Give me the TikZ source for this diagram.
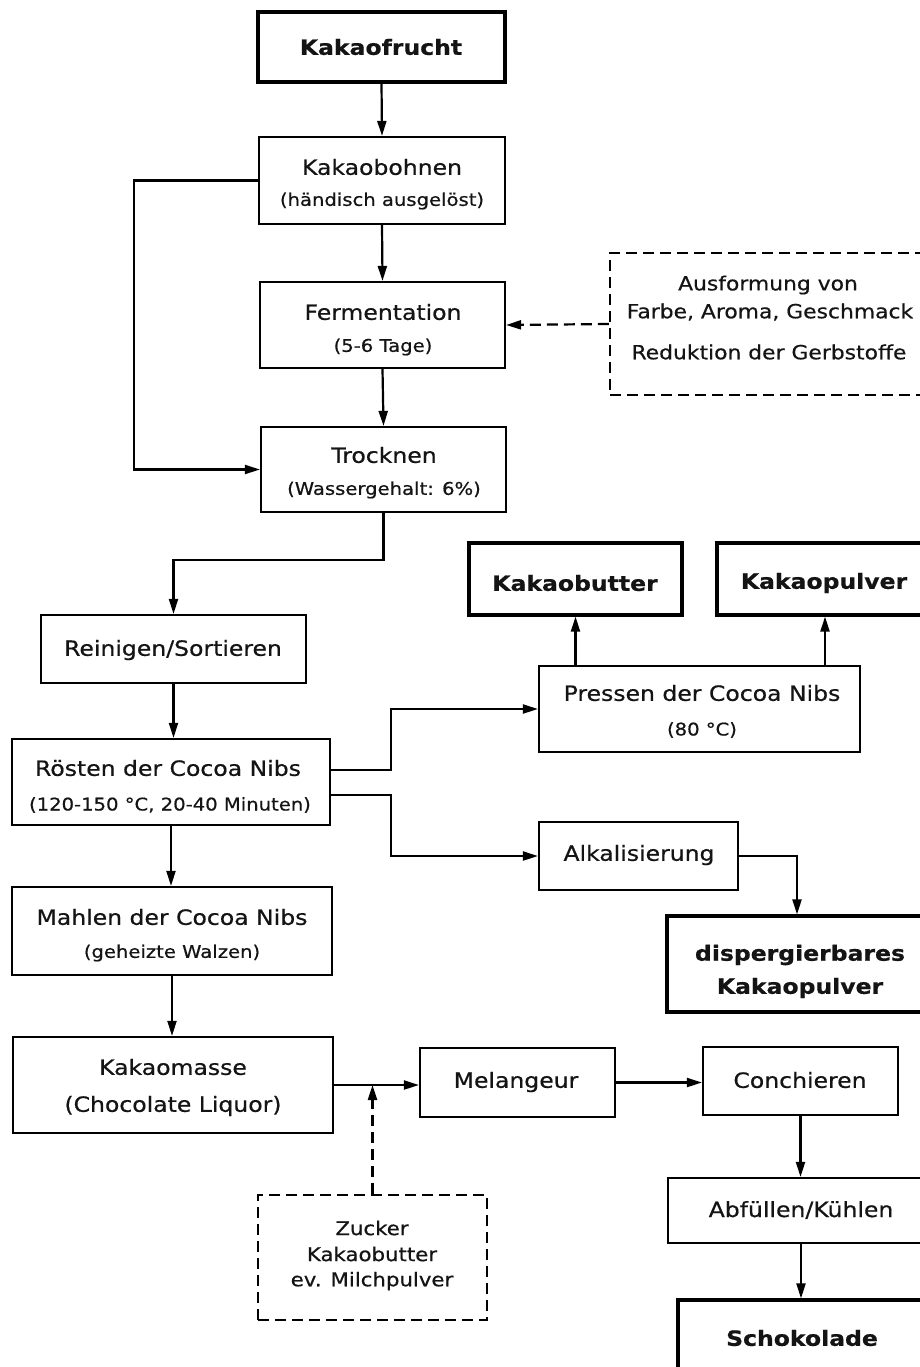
\documentclass[tikz,border=0pt]{standalone}
\usepackage{fontspec}
\setmainfont{DejaVu Sans}[FakeStretch=1.12,FakeBold=0.6]
\usetikzlibrary{arrows.meta,calc}
\newcommand\msz{\fontsize{21}{24}\selectfont}
\newcommand\ssz{\fontsize{17.5}{20}\selectfont}
\newcommand\bsz{\fontsize{21}{24}\selectfont\bfseries}
\newcommand\dsz{\fontsize{19.5}{22}\selectfont}
\newcommand\zsz{\fontsize{19}{22}\selectfont}
\tikzset{
  box/.style={draw=black, line width=2.2pt, rectangle, inner sep=0pt},
  tbox/.style={draw=black, line width=3.2pt, rectangle, inner sep=0pt},
  dbox/.style={draw=black, line width=2.2pt, rectangle, inner sep=0pt, dash pattern=on 11pt off 6pt},
  txt/.style={inner sep=0pt, text=black!92},
  conn/.style={line width=2.2pt, -{Triangle[length=15pt,width=9pt]}},
  dconn/.style={line width=2.2pt, dash pattern=on 11pt off 6pt, -{Triangle[length=15pt,width=9pt]}},
}
\begin{document}
\begin{tikzpicture}[x=1pt,y=-1pt]
\useasboundingbox (0,0) rectangle (920,1367);
\fill[white] (0,0) rectangle (920,1367);
\clip (0,0) rectangle (920,1367);

% boxes
\node[tbox, minimum width=247pt, minimum height=70pt] (kf) at (381.5,47) {};
\node[box, minimum width=246pt, minimum height=87pt] (kb) at (382,180.5) {};
\node[box, minimum width=245pt, minimum height=86pt] (fe) at (382.5,325) {};
\node[box, minimum width=245pt, minimum height=85pt] (tr) at (383.5,469.5) {};
\node[dbox, minimum width=325pt, minimum height=142pt] (aus) at (772.5,324) {};
\node[box, minimum width=265pt, minimum height=68pt] (rs) at (173.5,649) {};
\node[box, minimum width=318pt, minimum height=86pt] (ro) at (171,782) {};
\node[box, minimum width=321pt, minimum height=86pt] (pr) at (699.5,709) {};
\node[tbox, minimum width=213pt, minimum height=72pt] (kbu) at (575.5,579) {};
\node[tbox, minimum width=208pt, minimum height=72pt] (kpu) at (821,579) {};
\node[box, minimum width=199pt, minimum height=68pt] (al) at (638.5,856) {};
\node[tbox, minimum width=266pt, minimum height=96pt] (dk) at (800,964) {};
\node[box, minimum width=320pt, minimum height=88pt] (ma) at (172,931) {};
\node[box, minimum width=320pt, minimum height=96pt] (km) at (173,1085) {};
\node[box, minimum width=195pt, minimum height=69pt] (me) at (517.5,1082.5) {};
\node[dbox, minimum width=229pt, minimum height=125pt] (zu) at (372.5,1257.5) {};
\node[box, minimum width=195pt, minimum height=68pt] (co) at (800.5,1081) {};
\node[box, minimum width=266pt, minimum height=65pt] (ab) at (801,1210.5) {};
\node[tbox, minimum width=248pt, minimum height=100pt] (sc) at (802,1350) {};

% texts
\node[txt] (t1) at (381,47) {\bsz Kakaofrucht};
\node[txt] (t2) at (382,167) {\msz Kakaobohnen};
\node[txt] (t3) at (382,201) {\ssz (händisch ausgelöst)};
\node[txt] (t4) at (383,312) {\msz Fermentation};
\node[txt] (t5) at (383,347) {\ssz (5-6 Tage)};
\node[txt] (t6) at (384,455) {\msz Trocknen};
\node[txt] (t7) at (384,490) {\ssz (Wassergehalt: 6\%)};
\node[txt] (t8) at (768,285) {\dsz Ausformung von};
\node[txt] (t9) at (770,312) {\dsz Farbe, Aroma, Geschmack};
\node[txt] (t10) at (769,352) {\dsz Reduktion der Gerbstoffe};
\node[txt] (t11) at (575,583) {\bsz Kakaobutter};
\node[txt] (t12) at (824,583) {\bsz Kakaopulver};
\node[txt] (t13) at (173,650) {\msz Reinigen/Sortieren};
\node[txt] (t14) at (168,768) {\msz Rösten der Cocoa Nibs};
\node[txt] (t15) at (170,805) {\ssz (120-150 °C, 20-40 Minuten)};
\node[txt] (t16) at (702,693) {\msz Pressen der Cocoa Nibs};
\node[txt] (t17) at (702,730) {\ssz (80 °C)};
\node[txt] (t18) at (639,855) {\msz Alkalisierung};
\node[txt] (t19) at (800,955) {\bsz dispergierbares};
\node[txt] (t20) at (800,988) {\bsz Kakaopulver};
\node[txt] (t21) at (172,917) {\msz Mahlen der Cocoa Nibs};
\node[txt] (t22) at (172,953) {\ssz (geheizte Walzen)};
\node[txt] (t23) at (173,1067) {\msz Kakaomasse};
\node[txt] (t24) at (173,1106) {\msz (Chocolate Liquor)};
\node[txt] (t25) at (516,1082) {\msz Melangeur};
\node[txt] (t26) at (800,1080) {\msz Conchieren};
\node[txt] (t27) at (801,1210) {\msz Abfüllen/Kühlen};
\node[txt] (t28) at (802,1338) {\bsz Schokolade};
\node[txt] (t29) at (372,1228) {\zsz Zucker};
\node[txt] (t30) at (372,1254) {\zsz Kakaobutter};
\node[txt] (t31) at (372,1281) {\zsz ev. Milchpulver};

% connectors
\coordinate (lp) at (134,180.5);
\coordinate (jn) at (zu.north |- km.east);
\draw[conn] (kf.south) -- (kb.north);
\draw[conn] (kb.south) -- (fe.north);
\draw[conn] (fe.south) -- (tr.north);
\draw[conn] (kb.west) -- (lp) |- (tr.west);
\draw[dconn] (aus.west) -- (fe.east);
\draw[conn] (tr.south) -- ++(0,47) -| (rs.north);
\draw[conn] (rs.south) -- (rs.south |- ro.north);
\draw[conn] ([yshift=12pt]ro.east) -- ++(60,0) |- (pr.west);
\draw[conn] ([yshift=-13pt]ro.east) -- ++(60,0) |- (al.west);
\draw[conn] (kbu.south |- pr.north) -- (kbu.south);
\draw[conn] ([xshift=4pt]kpu.south |- pr.north) -- ([xshift=4pt]kpu.south);
\draw[conn] (al.east) -| ([xshift=-3pt]dk.north);
\draw[conn] (ro.south) -- (ro.south |- ma.north);
\draw[conn] (ma.south) -- (ma.south |- km.north);
\draw[conn] (km.east) -- (km.east -| me.west);
\draw[dconn] (zu.north) -- (jn);
\draw[conn] (me.east) -- (me.east -| co.west);
\draw[conn] (co.south) -- (co.south |- ab.north);
\draw[conn] (ab.south) -- (ab.south |- sc.north);
\end{tikzpicture}
\end{document}
